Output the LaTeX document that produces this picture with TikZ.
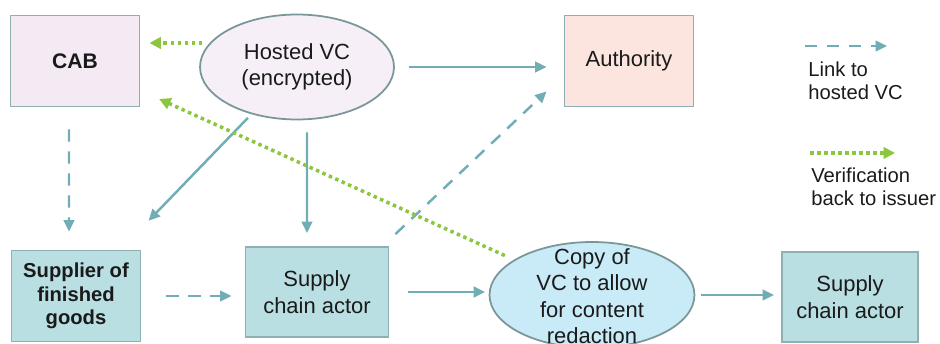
\documentclass[tikz,border=0pt]{standalone}
\usepackage{fontspec}
\setmainfont{Liberation Sans}
\usetikzlibrary{arrows.meta,shapes.geometric,calc}
\definecolor{boxline}{RGB}{143,176,179}
\definecolor{cabfill}{RGB}{244,234,244}
\definecolor{authfill}{RGB}{252,229,223}
\definecolor{actorfill}{RGB}{185,223,227}
\definecolor{hostfill}{RGB}{246,239,248}
\definecolor{copyfill}{RGB}{201,235,248}
\definecolor{linkcol}{RGB}{112,173,180}
\definecolor{verifcol}{RGB}{140,198,63}
\definecolor{txt}{RGB}{26,26,26}
\tikzset{
  box/.style={draw=boxline,line width=1.1pt,minimum width=2.58cm,minimum height=1.82cm,text=txt,align=center,font=\fontsize{12.5}{15}\selectfont},
  oval/.style={ellipse,draw=boxline!85!black,line width=1pt,inner sep=0pt},
  legend/.style={text=txt,align=left,inner sep=0pt,font=\fontsize{11.5}{13}\selectfont},
  link/.style={linkcol,line width=1.4pt,-{Triangle[length=6.5pt,width=6pt]}},
  linkdash/.style={link,dash pattern=on 7pt off 5.5pt},
  verif/.style={verifcol,line width=2pt,dash pattern=on 2pt off 2pt,-{Triangle[length=6.5pt,width=6.5pt]}},
}
\begin{document}
\begin{tikzpicture}[x=0.02cm,y=-0.02cm]
  \useasboundingbox (0,0) rectangle (940,344);
  \node[box,fill=cabfill,font=\fontsize{12}{14}\selectfont\bfseries] (cab) at (75,61) {CAB};
  \node[oval,fill=hostfill,minimum width=3.88cm,minimum height=2.1cm,text=txt,align=center,font=\fontsize{12.5}{15}\selectfont] (hosted) at (297,67) {Hosted VC\\(encrypted)};
  \node[box,fill=authfill] (auth) at (629,61) {Authority};
  \node[box,fill=actorfill,font=\fontsize{11.5}{13.5}\selectfont\bfseries] (supplier) at (76,296) {Supplier of\\finished\\goods};
  \node[box,fill=actorfill,minimum width=2.86cm,minimum height=1.8cm] (actor) at (317,292) {Supply\\chain actor};
  \node[oval,fill=copyfill,minimum width=4.1cm,minimum height=2.12cm] (copy) at (592,295) {};
  \node[text=txt,align=center,font=\fontsize{12.5}{15}\selectfont] (copytext) at (592,296) {Copy of\\VC to allow\\for content\\redaction};
  \node[box,fill=actorfill,minimum width=2.72cm,minimum height=1.8cm] (actorb) at (850,297) {Supply\\chain actor};
  \draw[link,shorten <=0.28cm,shorten >=0.34cm] (hosted) -- (hosted -| auth.west);
  \draw[linkdash,shorten <=0.44cm,shorten >=0.36cm] ([xshift=-0.12cm]cab.south) -- ([xshift=-0.14cm]supplier.north);
  \draw[link,shorten <=0.1cm,shorten >=0.8cm] (hosted) -- (supplier);
  \draw[link,shorten <=0.24cm,shorten >=0.26cm] ([xshift=0.2cm]hosted.south) -- ([xshift=-0.2cm]actor.north);
  \draw[linkdash] ($(actor.north east)+(6,-12)$) -- ($(auth.south west)+(-17,-16)$);
  \draw[linkdash,shorten <=0.5cm,shorten >=0.26cm] (supplier) -- (supplier -| actor.west);
  \draw[link,shorten <=0.38cm,shorten >=0.07cm] (actor) -- (actor -| copy.west);
  \draw[link,shorten <=0.11cm,shorten >=0.14cm] (copy) -- (copy -| actorb.west);
  \draw[verif] ($(hosted.west)+(3,-24)$) -- ($(cab.east)+(9,-18)$);
  \draw[verif,shorten <=0.2cm,shorten >=0.41cm] (copy) -- (cab);
  \coordinate (linka) at (805,46);
  \coordinate (linkb) at (887,46);
  \draw[linkdash] (linka) -- (linkb);
  \node[legend,anchor=north west] (linktext) at (808,62) {Link to\\hosted VC};
  \coordinate (verifa) at (810,153);
  \coordinate (verifb) at (895,153);
  \draw[verif] (verifa) -- (verifb);
  \node[legend,anchor=north west] (veriftext) at (811,168) {Verification\\back to issuer};
\end{tikzpicture}
\end{document}
